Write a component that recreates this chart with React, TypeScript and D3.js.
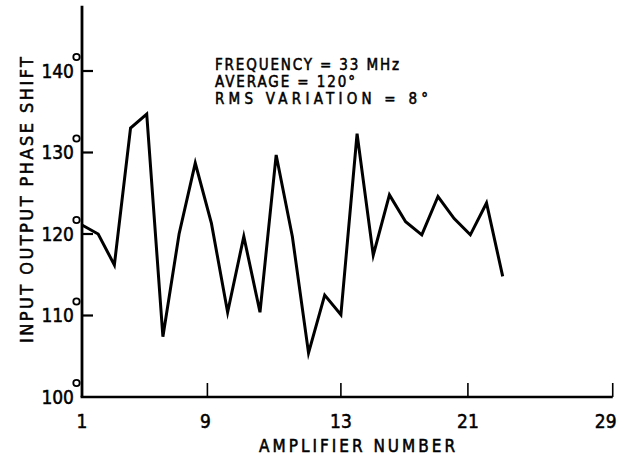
import React from "react";
import * as d3 from "d3";

const amplifiers = [1,2,3,4,5,6,7,8,9,10,11,12,13,14,15,16,17,18,19,20,21,22,23,24,25,26,27];
const phaseShift = [121.1,120.0,116.2,133.0,134.7,107.4,120.0,128.7,121.3,110.4,119.7,110.4,129.7,119.7,105.4,112.5,110.1,132.3,117.4,124.8,121.5,119.9,124.6,121.9,119.9,123.8,114.8];

const yTickValues = [100, 110, 120, 130, 140];
const yTickLabels = ["100", "110", "120", "130", "140"];
const xTickValues = [1, 8.75, 17, 24.85, 33.8];
const xTickLabels = ["1", "9", "13", "21", "29"];
const notes = ["FREQUENCY = 33 MHz", "AVERAGE =  120°", "RMS  VARIATION =  8°"];

const W = 618, H = 457;
const FONT = "'Liberation Sans Narrow', 'DejaVu Sans Condensed', 'Liberation Sans', Arial, sans-serif";

export default function App() {
  const x = d3.scaleLinear().domain([1, 27]).range([82, 502.7]);
  const y = d3.scaleLinear().domain([100, 140]).range([397, 71]);
  const line = d3.line<number>().x((_, i) => x(amplifiers[i])).y((d) => y(d)).curve(d3.curveLinear);
  const xEnd = x(xTickValues[xTickValues.length - 1]);
  const yTop = y(148);
  const noteLengths = [184, 140, 213];
  const noteBase = [70, 87, 104];
  const heavy = { stroke: "#000", strokeWidth: 0.5 };
  return (
    <svg width={W} height={H} style={{ position: "absolute", left: 0, top: 0, background: "#fff" }}>
      <rect x={0} y={0} width={W} height={H} fill="#fff" />
      {/* axes */}
      <line x1={x(1)} y1={yTop} x2={x(1)} y2={y(100)} stroke="#000" strokeWidth={2.8} />
      <line x1={x(1) - 1.4} y1={y(100)} x2={xEnd} y2={y(100)} stroke="#000" strokeWidth={2.6} />
      {/* y ticks */}
      {yTickValues.map((v, i) => (
        <g key={"y" + v}>
          {v !== 100 && <line x1={x(1)} x2={x(1) + 11} y1={y(v)} y2={y(v)} stroke="#000" strokeWidth={2.2} />}
          <text x={74} y={y(v)} dy="0.36em" textAnchor="end" fontFamily={FONT} fontSize={19} fill="#000" {...heavy}>{yTickLabels[i]}</text>
          <circle cx={76.5} cy={y(v) - 14} r={3.2} fill="none" stroke="#000" strokeWidth={1.8} />
        </g>
      ))}
      {/* x ticks */}
      {xTickValues.map((v, i) => (
        <g key={"x" + i}>
          {i > 0 && <line x1={x(v)} x2={x(v)} y1={y(100)} y2={y(100) - 14} stroke="#000" strokeWidth={1.6} />}
          <text x={x(v) - (i === xTickValues.length - 1 ? 7 : i === 1 ? 2 : 0)} y={428} textAnchor="middle" fontFamily={FONT} fontSize={19} fill="#000" {...heavy}>{xTickLabels[i]}</text>
        </g>
      ))}
      {/* axis titles */}
      <text x={259} y={452} textLength={196} lengthAdjust="spacing" fontFamily={FONT} fontSize={17} fill="#000" {...heavy}>AMPLIFIER NUMBER</text>
      <text transform="translate(33,343) rotate(-90)" x={0} y={0} textLength={286} lengthAdjust="spacing" fontFamily={FONT} fontSize={18} fill="#000" {...heavy}>INPUT OUTPUT PHASE SHIFT</text>
      {/* annotations */}
      {notes.map((t, i) => (
        <text key={"n" + i} x={215} y={noteBase[i]} textLength={noteLengths[i]} lengthAdjust="spacing" fontFamily={FONT} fontSize={15} fill="#000" {...heavy}>{t}</text>
      ))}
      {/* data line */}
      <path d={line(phaseShift) || ""} fill="none" stroke="#000" strokeWidth={3} strokeLinejoin="miter" strokeMiterlimit={6} />
    </svg>
  );
}
